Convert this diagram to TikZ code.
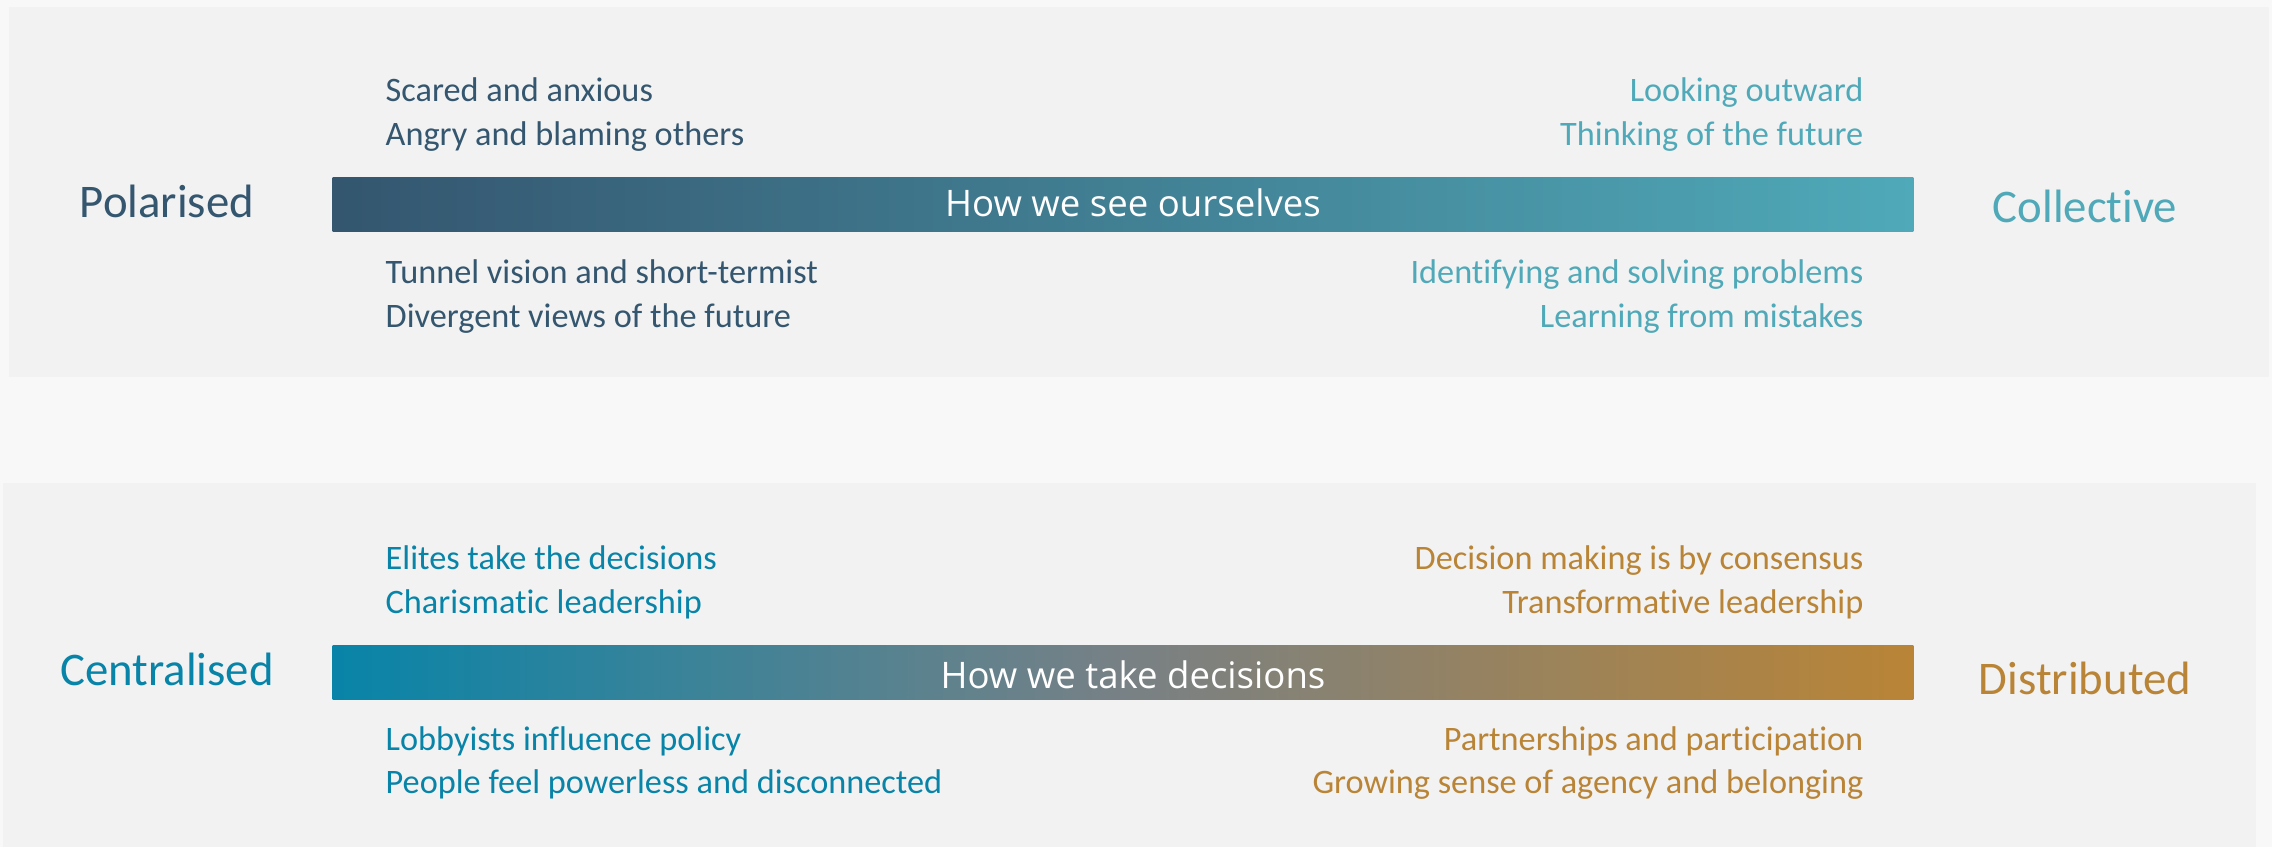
\documentclass[tikz,border=0pt]{standalone}
\usepackage{fontspec}
\setmainfont{Carlito}[Ligatures=NoCommon, RawFeature={-liga;-clig;-dlig;-calt}]
\newfontfamily\barfont{Open Sans}
\definecolor{pagebg}{RGB}{248,248,248}
\definecolor{panelbg}{RGB}{242,242,242}
\definecolor{seeL}{RGB}{52,86,111}
\definecolor{seeR}{RGB}{79,169,184}
\definecolor{takeL}{RGB}{8,132,168}
\definecolor{takeM}{RGB}{120,129,133}
\definecolor{takeR}{RGB}{185,132,54}
\begin{document}
\begin{tikzpicture}[x=0.01cm, y=-0.01cm,
    side/.style={inner sep=0pt, anchor=base, font=\fontsize{13.3}{16}\selectfont},
    point/.style={inner sep=0pt, font=\fontsize{9.75}{12}\selectfont},
    pointl/.style={point, anchor=base west},
    pointr/.style={point, anchor=base east},
    bar/.style={inner sep=0pt, minimum width=15.8cm, minimum height=0.54cm},
    bartext/.style={inner sep=0pt, anchor=base, text=white, font=\barfont\fontsize{10.4}{12}\selectfont}]
    \useasboundingbox (0,0) rectangle (2272,847);
    \fill[pagebg] (0,0) rectangle (2272,847);
    \fill[panelbg] (9,7) rectangle (2269,377);
    \fill[panelbg] (3,483) rectangle (2256,847);

    \node[bar, left color=seeL, right color=seeR] (seebar) at (1123,204) {};
    \node[bartext] (seetext) at (1133,216) {How we see ourselves};
    \node[side, text=seeL] (polar) at (167,217) {Polarised};
    \node[side, text=seeR] (collect) at (2085,222) {Collective};
    \node[pointl, text=seeL] (s1) at (385,101) {Scared and anxious};
    \node[pointl, text=seeL] (s2) at (385,145) {Angry and blaming others};
    \node[pointl, text=seeL] (s3) at (385,283) {Tunnel vision and short-termist};
    \node[pointl, text=seeL] (s4) at (385,327) {Divergent views of the future};
    \node[pointr, text=seeR] (s5) at (1864,101) {Looking outward};
    \node[pointr, text=seeR] (s6) at (1864,145) {Thinking of the future};
    \node[pointr, text=seeR] (s7) at (1864,283) {Identifying and solving problems};
    \node[pointr, text=seeR] (s8) at (1864,327) {Learning from mistakes};

    \node[bar, left color=takeL, right color=takeR, middle color=takeM] (takebar) at (1123,672) {};
    \node[bartext] (taketext) at (1133,688) {How we take decisions};
    \node[side, text=takeL] (central) at (167,685) {Centralised};
    \node[side, text=takeR] (distrib) at (2085,694) {Distributed};
    \node[pointl, text=takeL] (t1) at (385,569) {Elites take the decisions};
    \node[pointl, text=takeL] (t2) at (385,613) {Charismatic leadership};
    \node[pointl, text=takeL] (t3) at (385,750) {Lobbyists influence policy};
    \node[pointl, text=takeL] (t4) at (385,793) {People feel powerless and disconnected};
    \node[pointr, text=takeR] (t5) at (1864,569) {Decision making is by consensus};
    \node[pointr, text=takeR] (t6) at (1864,613) {Transformative leadership};
    \node[pointr, text=takeR] (t7) at (1864,750) {Partnerships and participation};
    \node[pointr, text=takeR] (t8) at (1864,793) {Growing sense of agency and belonging};
\end{tikzpicture}
\end{document}
